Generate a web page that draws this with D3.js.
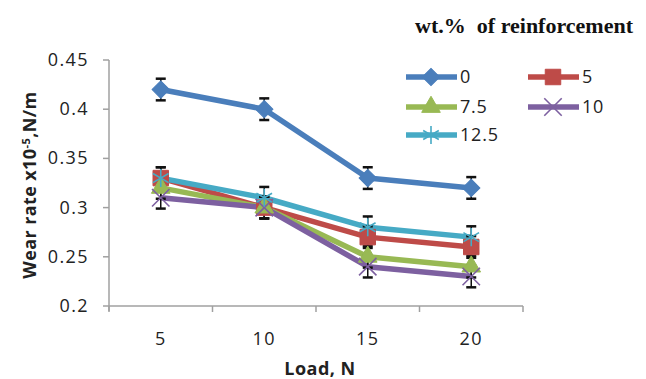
<!DOCTYPE html>
<html>
<meta charset="utf-8">
<title>Wear rate vs load</title>
<style>
body { margin: 0; background: #fff; }
.tick_lbl { font-family: 'Open Sans', 'Liberation Sans', sans-serif; font-size: 18px; fill: #222; }
.ax_title { font-family: 'Open Sans', 'Liberation Sans', sans-serif; font-size: 18px; font-weight: 700; fill: #222; }
.lg_lbl { font-family: 'Open Sans', 'Liberation Sans', sans-serif; font-size: 18px; fill: #222; }
</style>
<script src="https://d3js.org/d3.v7.min.js"></script>
<body>
<div id="chart"></div>
<script>

// data
var loads = ["5", "10", "15", "20"];
var y_ticks = [0.2, 0.25, 0.3, 0.35, 0.4, 0.45];
var series_names = ["0", "5", "7.5", "10", "12.5"];
var wt_0 = [0.42, 0.40, 0.33, 0.32];
var wt_5 = [0.33, 0.30, 0.27, 0.26];
var wt_7_5 = [0.32, 0.30, 0.25, 0.24];
var wt_10 = [0.31, 0.30, 0.24, 0.23];
var wt_12_5 = [0.33, 0.31, 0.28, 0.27];
var err = 0.011;

var series = [
  { name: series_names[0], values: wt_0, color: "#4a7ebb", sym: "diamond" },
  { name: series_names[1], values: wt_5, color: "#be4b48", sym: "square" },
  { name: series_names[2], values: wt_7_5, color: "#98b954", sym: "triangle" },
  { name: series_names[3], values: wt_10, color: "#7d60a0", sym: "times" },
  { name: series_names[4], values: wt_12_5, color: "#46aac5", sym: "asterisk" }
];

var W = 646, H = 379;
var m_left = 109, m_right = 523, m_top = 60, m_bottom = 306;

var svg = d3.select("#chart").append("svg")
            .attr("width", W).attr("height", H);

var x = d3.scaleBand().domain(loads).range([m_left, m_right]).padding(0);
var x_edge = d3.scaleLinear().domain([0, loads.length]).range([m_left, m_right]);
var y = d3.scaleLinear().domain([0.2, 0.45]).range([m_bottom, m_top]);

// axes
var ax_col = "#a0a0a0";
svg.append("line").attr("x1", m_left).attr("x2", m_left)
   .attr("y1", y(0.45)).attr("y2", y(0.2) + 5)
   .attr("stroke", ax_col).attr("stroke-width", 1.5);
svg.append("line").attr("x1", m_left).attr("x2", m_right)
   .attr("y1", m_bottom).attr("y2", m_bottom)
   .attr("stroke", ax_col).attr("stroke-width", 1.5);

svg.selectAll(".ytick").data(y_ticks).enter().append("line")
   .attr("x1", m_left - 6).attr("x2", m_left)
   .attr("y1", function(d) { return y(d); })
   .attr("y2", function(d) { return y(d); })
   .attr("stroke", ax_col).attr("stroke-width", 1.5);

svg.selectAll(".ylbl").data(y_ticks).enter().append("text")
   .attr("class", "tick_lbl")
   .attr("x", 89)
   .attr("y", function(d) { return y(d) + 6; })
   .attr("text-anchor", "end")
   .attr("letter-spacing", 1.4)
   .text(function(d) { return d; });

svg.selectAll(".xtick").data(d3.range(loads.length + 1)).enter().append("line")
   .attr("x1", function(d) { return x_edge(d); })
   .attr("x2", function(d) { return x_edge(d); })
   .attr("y1", m_bottom).attr("y2", m_bottom + 6)
   .attr("stroke", ax_col).attr("stroke-width", 1.5);

svg.selectAll(".xlbl").data(loads).enter().append("text")
   .attr("class", "tick_lbl")
   .attr("x", function(d) { return x(d) + x.bandwidth() / 2; })
   .attr("y", 345)
   .attr("text-anchor", "middle")
   .attr("letter-spacing", 1.4)
   .text(function(d) { return d; });

svg.append("text").attr("class", "ax_title")
   .attr("x", 320).attr("y", 375)
   .attr("text-anchor", "middle")
   .attr("letter-spacing", 0.5)
   .text("Load, N");

var ylab = svg.append("text").attr("class", "ax_title")
   .attr("transform", "translate(36,185) rotate(-90)")
   .attr("text-anchor", "middle")
   .attr("letter-spacing", 0.4);
ylab.append("tspan").text("Wear rate x10");
ylab.append("tspan").attr("font-size", "11px").attr("dy", -6).text("-5");
ylab.append("tspan").attr("dy", 6).text(",N/m");

svg.append("text")
   .attr("x", 633).attr("y", 33)
   .attr("text-anchor", "end")
   .style("font-family", "'Liberation Serif', serif")
   .style("font-weight", 700)
   .style("font-size", "22px")
   .style("white-space", "pre")
   .attr("fill", "#111")
   .text("wt.%  of reinforcement");

// markers
function sym_path(s) {
  if (s === "diamond") return d3.symbol().type(d3.symbolSquare).size(150)();
  if (s === "square") return d3.symbol().type(d3.symbolSquare).size(240)();
  if (s === "triangle") return d3.symbol().type(d3.symbolTriangle).size(150)();
  if (s === "times") return d3.symbol().type(d3.symbolTimes).size(200)();
  return d3.symbol().type(d3.symbolAsterisk).size(230)();
}
function draw_marker(g, s, color, cx, cy) {
  var stroke_only = (s === "times" || s === "asterisk");
  g.append("path")
   .attr("d", sym_path(s))
   .attr("transform", "translate(" + cx + "," + cy + ")" + (s === "diamond" ? " rotate(45)" : ""))
   .attr("fill", stroke_only ? "none" : color)
   .attr("stroke", color)
   .attr("stroke-width", stroke_only ? 1.6 : 1);
}

var line = d3.line()
  .x(function(d, i) { return x(loads[i]) + x.bandwidth() / 2; })
  .y(function(d) { return y(d); });

var plot = svg.append("g");

series.forEach(function(s) {
  plot.append("path")
      .datum(s.values)
      .attr("d", line)
      .attr("fill", "none")
      .attr("stroke", s.color)
      .attr("stroke-width", 5.5)
      .attr("stroke-linejoin", "round");
});

// error bars
series.forEach(function(s) {
  s.values.forEach(function(v, i) {
    var cx = x(loads[i]) + x.bandwidth() / 2;
    plot.append("line").attr("x1", cx).attr("x2", cx)
        .attr("y1", y(v - err)).attr("y2", y(v + err))
        .attr("stroke", "#111").attr("stroke-width", 1.5);
    [v - err, v + err].forEach(function(e) {
      plot.append("line").attr("x1", cx - 5).attr("x2", cx + 5)
          .attr("y1", y(e)).attr("y2", y(e))
          .attr("stroke", "#111").attr("stroke-width", 2.5);
    });
  });
});

series.forEach(function(s) {
  s.values.forEach(function(v, i) {
    draw_marker(plot, s.sym, s.color, x(loads[i]) + x.bandwidth() / 2, y(v));
  });
});

// legend
var lg_pos = [[406, 77], [528, 77], [406, 107], [528, 107], [406, 135]];
series.forEach(function(s, i) {
  var p = lg_pos[i];
  var g = svg.append("g");
  g.append("line").attr("x1", p[0]).attr("x2", p[0] + 51)
   .attr("y1", p[1]).attr("y2", p[1])
   .attr("stroke", s.color).attr("stroke-width", 5.5);
  draw_marker(g, s.sym, s.color, p[0] + 25, p[1]);
  g.append("text").attr("class", "lg_lbl")
   .attr("x", p[0] + 54).attr("y", p[1] + 6)
   .attr("letter-spacing", 0.8)
   .text(s.name);
});

</script>
</body>
</html>
